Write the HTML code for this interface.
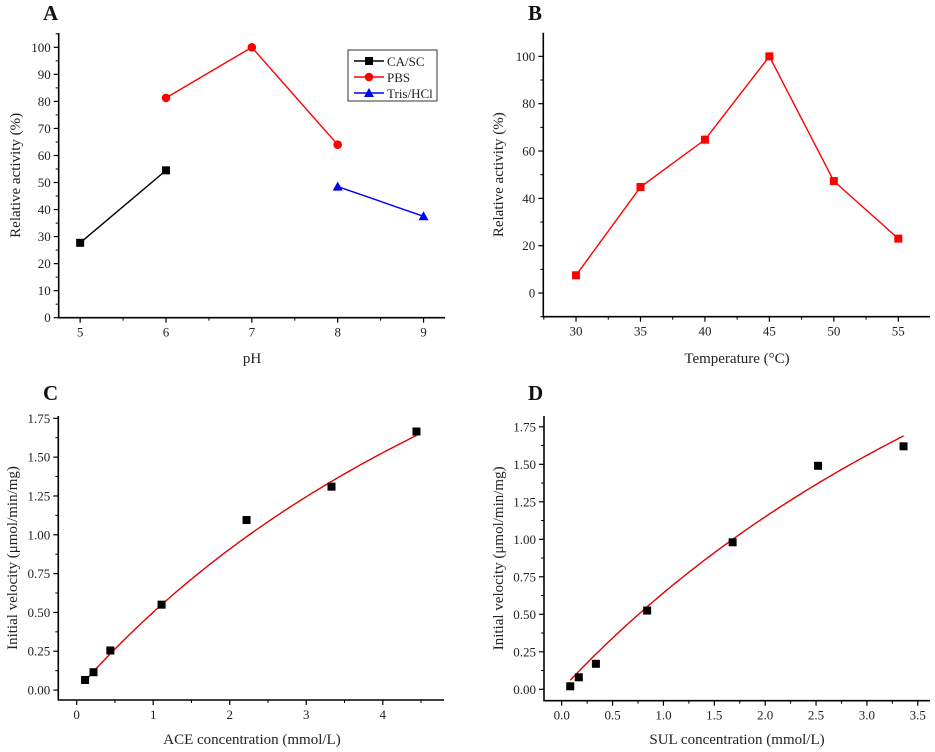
<!DOCTYPE html>
<html><head><meta charset="utf-8"><style>
html,body{margin:0;padding:0;background:#fff;}
svg{display:block;font-family:"Liberation Serif",serif;}
</style></head><body>
<svg id="fig" width="935" height="752" viewBox="0 0 935 752" xmlns="http://www.w3.org/2000/svg"></svg>
<script>
// Panel A data
const phCasc = [5, 6];
const actCasc = [27.7, 54.5];
const phPbs = [6, 7, 8];
const actPbs = [81.3, 100, 64];
const phTris = [8, 9];
const actTris = [48.5, 37.5];
const aXTicks = [5, 6, 7, 8, 9];
const aYTicks = [0,10,20,30,40,50,60,70,80,90,100];
// Panel B data
const temps = [30, 35, 40, 45, 50, 55];
const tempAct = [7.5, 44.8, 64.8, 100, 47.3, 23];
const bXTicks = [30, 35, 40, 45, 50, 55];
const bYTicks = [0, 20, 40, 60, 80, 100];
// Panel C data
const aceConc = [0.11, 0.22, 0.44, 1.11, 2.22, 3.33, 4.44];
const aceVel = [0.065, 0.115, 0.255, 0.55, 1.095, 1.31, 1.665];
const aceFit = [4.83, 8.64]; // Vmax, Km
const cXTicks = [0, 1, 2, 3, 4];
const cYTicks = [0, 0.25, 0.5, 0.75, 1.0, 1.25, 1.5, 1.75];
// Panel D data
const sulConc = [0.084, 0.168, 0.336, 0.84, 1.68, 2.52, 3.36];
const sulVel = [0.02, 0.08, 0.17, 0.525, 0.98, 1.49, 1.62];
const sulFit = [5.45, 7.48];
const dXTicks = [0, 0.5, 1.0, 1.5, 2.0, 2.5, 3.0, 3.5];
const dYTicks = [0, 0.25, 0.5, 0.75, 1.0, 1.25, 1.5, 1.75];

const NS = "http://www.w3.org/2000/svg";
const svg = document.getElementById('fig');
function mk(tag, attrs, parent, txt){
  const e = document.createElementNS(NS, tag);
  for (const k in attrs) e.setAttribute(k, attrs[k]);
  if (txt !== undefined) e.textContent = txt;
  (parent || svg).appendChild(e);
  return e;
}

function panel(p){
  const g = mk('g', {});
  
  
  const sx = v => p.x0 + (v - p.xmin) / (p.xmax - p.xmin) * (p.x1 - p.x0);
  const sy = v => p.y1 - (v - p.ymin) / (p.ymax - p.ymin) * (p.y1 - p.y0);
  // axes
  const ax = mk('path', {d:`M${p.x0},${p.y0} L${p.x0},${p.y1} L${p.x1},${p.y1}`, fill:'none', stroke:'#000', 'stroke-width':1.6}, g);
  
  
  // x ticks
  p.xTicks.forEach((t, i) => {
    const x = sx(t);
    mk('line', {x1:x, x2:x, y1:p.y1, y2:p.y1+5, stroke:'#000', 'stroke-width':1.2}, g);
    const lb = mk('text', {x:x, y:p.y1+19, 'font-size':13, 'text-anchor':'middle', fill:'#222'}, g, p.xFmt(t));
    
    
    if (i < p.xTicks.length - 1 || sx(t + p.xMinor) <= p.x1) {
      const mx = sx(t + p.xMinor);
      if (mx <= p.x1) mk('line', {x1:mx, x2:mx, y1:p.y1, y2:p.y1+3, stroke:'#000', 'stroke-width':1}, g);
    }
  });
  const fm = sx(p.xTicks[0] - p.xMinor);
  if (fm >= p.x0) mk('line', {x1:fm, x2:fm, y1:p.y1, y2:p.y1+3, stroke:'#000', 'stroke-width':1}, g);
  // y ticks
  p.yTicks.forEach(t => {
    const y = sy(t);
    mk('line', {x1:p.x0-5, x2:p.x0, y1:y, y2:y, stroke:'#000', 'stroke-width':1.2}, g);
    const lb = mk('text', {x:p.x0-8, y:y+4.5, 'font-size':13, 'text-anchor':'end', fill:'#222'}, g, p.yFmt(t));
    
    
    const my = sy(t + p.yMinor);
    if (my >= p.y0) mk('line', {x1:p.x0-3, x2:p.x0, y1:my, y2:my, stroke:'#000', 'stroke-width':1}, g);
  });
  const fmy = sy(p.yTicks[0] - p.yMinor);
  if (fmy <= p.y1) mk('line', {x1:p.x0-3, x2:p.x0, y1:fmy, y2:fmy, stroke:'#000', 'stroke-width':1}, g);
  // labels
  const t = mk('text', {x:p.titleX, y:p.titleY, 'font-size':21, 'font-weight':'bold', fill:'#111'}, g, p.title);
  
  
  const xl = mk('text', {x:p.xlX, y:p.xlY, 'font-size':15, 'text-anchor':'middle', fill:'#222'}, g, p.xlabel);
  
  
  const yl = mk('text', {x:0, y:0, 'font-size':15, 'text-anchor':'middle', fill:'#222', transform:`translate(${p.ylX},${(p.y0+p.y1)/2}) rotate(-90)`}, g, p.ylabel);
  
  
  return {g, sx, sy};
}

function square(g, x, y, color, name){
  const r = mk('rect', {x:x-4, y:y-4, width:8, height:8, fill:color}, g);
  
  
}
function circle(g, x, y, color, name){
  const c = mk('circle', {cx:x, cy:y, r:4.3, fill:color}, g);
  
  
}
function tri(g, x, y, color, name){
  const t = mk('polygon', {points:`${x},${y-5} ${x-5},${y+4} ${x+5},${y+4}`, fill:color}, g);
  
  
}
function line(g, xs, ys, sx, sy, color, name){
  const pts = xs.map((v, i) => `${sx(v)},${sy(ys[i])}`).join(' ');
  const l = mk('polyline', {points:pts, fill:'none', stroke:color, 'stroke-width':1.4}, g);
  
  
}
function fitCurve(g, xs, fit, sx, sy, name){
  const a = xs[0], b = xs[xs.length-1];
  const pts = [];
  for (let i = 0; i <= 80; i++){
    const s = a + (b - a) * i / 80;
    pts.push(`${sx(s)},${sy(fit[0]*s/(fit[1]+s))}`);
  }
  const l = mk('polyline', {points:pts.join(' '), fill:'none', stroke:'#e00000', 'stroke-width':1.4}, g);
  
  
}

// Panel A
const A = panel({name:'panel-a-ph', x0:58.7, x1:445, y0:33, y1:317.7, xmin:4.75, xmax:9.25, ymin:0, ymax:105.3,
  xTicks:aXTicks, xMinor:0.5, yTicks:aYTicks, yMinor:5, xFmt:v=>String(v), yFmt:v=>String(v),
  title:'A', titleX:43, titleY:20, xlabel:'pH', xlX:252, xlY:363, ylabel:'Relative activity (%)', ylX:20});
line(A.g, phCasc, actCasc, A.sx, A.sy, '#000', 'casc-line');
line(A.g, phPbs, actPbs, A.sx, A.sy, '#ff0000', 'pbs-line');
line(A.g, phTris, actTris, A.sx, A.sy, '#0000ff', 'tris-line');
phCasc.forEach((v,i)=>square(A.g, A.sx(v), A.sy(actCasc[i]), '#000', 'casc-point'));
phPbs.forEach((v,i)=>circle(A.g, A.sx(v), A.sy(actPbs[i]), '#ff0000', 'pbs-point'));
phTris.forEach((v,i)=>tri(A.g, A.sx(v), A.sy(actTris[i]), '#0000ff', 'tris-point'));
// legend
const leg = mk('g', {}, A.g);


mk('rect', {x:348, y:50, width:89, height:51, fill:'#fff', stroke:'#555', 'stroke-width':1.2}, leg);
const legItems = [['CA/SC','#000',square],['PBS','#ff0000',circle],['Tris/HCl','#0000ff',tri]];
legItems.forEach((it, i) => {
  const y = 61 + i*16;
  mk('line', {x1:354, x2:384, y1:y, y2:y, stroke:it[1], 'stroke-width':1.4}, leg);
  it[2](leg, 369, y, it[1], 'legend-marker');
  const tx = mk('text', {x:387, y:y+5, 'font-size':13, fill:'#222'}, leg, it[0]);
  
  
});

// Panel B
const B = panel({name:'panel-b-temperature', x0:543.3, x1:930, y0:32.7, y1:316.7, xmin:27.46, xmax:57.46, ymin:-10, ymax:110,
  xTicks:bXTicks, xMinor:2.5, yTicks:bYTicks, yMinor:10, xFmt:v=>String(v), yFmt:v=>String(v),
  title:'B', titleX:528, titleY:20, xlabel:'Temperature (\u00B0C)', xlX:737, xlY:363, ylabel:'Relative activity (%)', ylX:503});
line(B.g, temps, tempAct, B.sx, B.sy, '#ff0000', 'temp-line');
mk('line', {x1:B.sx(40), x2:B.sx(40), y1:B.sy(67), y2:B.sy(62.6), stroke:'#f08080', 'stroke-width':1}, B.g);
temps.forEach((v,i)=>square(B.g, B.sx(v), B.sy(tempAct[i]), '#ff0000', 'temp-point'));

// Panel C
const C = panel({name:'panel-c-ace', x0:58.3, x1:444, y0:416, y1:700, xmin:-0.24, xmax:4.8, ymin:-0.064, ymax:1.765,
  xTicks:cXTicks, xMinor:0.5, yTicks:cYTicks, yMinor:0.125, xFmt:v=>String(v), yFmt:v=>v.toFixed(2),
  title:'C', titleX:43, titleY:400, xlabel:'ACE concentration (mmol/L)', xlX:252, xlY:744, ylabel:'Initial velocity (\u03BCmol/min/mg)', ylX:17});
fitCurve(C.g, aceConc, aceFit, C.sx, C.sy, 'ace-fit-curve');
aceConc.forEach((v,i)=>square(C.g, C.sx(v), C.sy(aceVel[i]), '#000', 'ace-point'));

// Panel D
const D = panel({name:'panel-d-sul', x0:544, x1:930, y0:416, y1:700.7, xmin:-0.174, xmax:3.62, ymin:-0.076, ymax:1.822,
  xTicks:dXTicks, xMinor:0.25, yTicks:dYTicks, yMinor:0.125, xFmt:v=>v.toFixed(1), yFmt:v=>v.toFixed(2),
  title:'D', titleX:528, titleY:400, xlabel:'SUL concentration (mmol/L)', xlX:737, xlY:744, ylabel:'Initial velocity (\u03BCmol/min/mg)', ylX:503});
fitCurve(D.g, sulConc, sulFit, D.sx, D.sy, 'sul-fit-curve');
sulConc.forEach((v,i)=>square(D.g, D.sx(v), D.sy(sulVel[i]), '#000', 'sul-point'));
</script>
</body></html>
